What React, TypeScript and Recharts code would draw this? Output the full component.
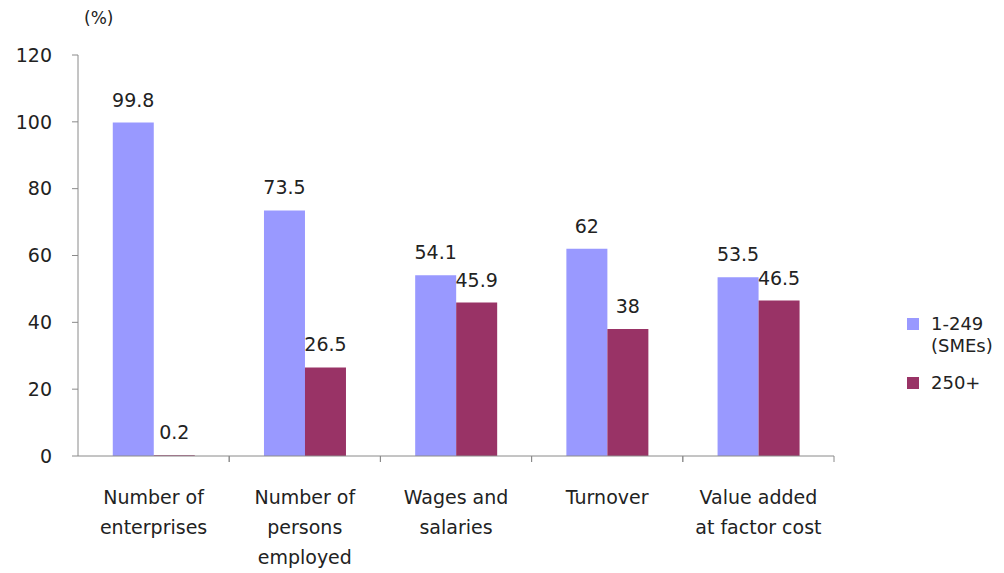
import React from "react";
import { BarChart, Bar, XAxis, YAxis, LabelList } from "recharts";

// categories split in lines the way they wrap in the reference
const categories: string[][] = [
  ["Number of", "enterprises"],
  ["Number of", "persons", "employed"],
  ["Wages and", "salaries"],
  ["Turnover"],
  ["Value added", "at factor cost"],
];
const smes = [99.8, 73.5, 54.1, 62, 53.5];
const large = [0.2, 26.5, 45.9, 38, 46.5];
const yTicks = [0, 20, 40, 60, 80, 100, 120];

const data = categories.map((lines, i) => ({
  name: lines.join(" "),
  smes: smes[i],
  large: large[i],
}));

const FONT = "'DejaVu Sans', sans-serif";
const TEXT = "#222";
const AXIS = "#8a8a8a";

const W = 1004;
const H = 573;
const M = { top: 55, right: 170, bottom: 0, left: 0 };
const Y_W = 78;
const BAND = (W - Y_W - M.right) / categories.length;

// category label + boundary tick marks like Excel's "between" ticks
const CategoryTick = (props: any) => {
  const { x, y, payload } = props;
  const lines = categories[payload.index] || [payload.value];
  const ay = y - 8;
  return (
    <g>
      {payload.index > 0 && (
        <line x1={x - BAND / 2} x2={x - BAND / 2} y1={ay} y2={ay + 6} stroke={AXIS} />
      )}
      <line x1={x + BAND / 2} x2={x + BAND / 2} y1={ay} y2={ay + 6} stroke={AXIS} />
      <text x={x} y={y} textAnchor="middle" fill={TEXT} fontSize={19} fontFamily={FONT}>
        {lines.map((l: string, i: number) => (
          <tspan key={i} x={x} dy={i === 0 ? 40 : 30}>
            {l}
          </tspan>
        ))}
      </text>
    </g>
  );
};

const legendItems = [
  { color: "#9999ff", lines: ["1-249", "(SMEs)"] },
  { color: "#993366", lines: ["250+"] },
];

export default function App() {
  return (
    <div style={{ position: "absolute", left: 0, top: 0, width: W, height: H, background: "#fff" }}>
      <div
        style={{
          position: "absolute",
          left: 84,
          top: 8,
          fontFamily: FONT,
          fontSize: 17,
          color: TEXT,
        }}
      >
        (%)
      </div>
      <div
        style={{
          position: "absolute",
          left: 907,
          top: 313,
          fontFamily: FONT,
          fontSize: 18,
          color: TEXT,
          lineHeight: "22px",
        }}
      >
        {legendItems.map((it, i) => (
          <div key={i} style={{ display: "flex", alignItems: "flex-start", marginTop: i ? 15 : 0 }}>
            <span style={{ width: 12, height: 12, background: it.color, marginTop: 5, marginRight: 12 }} />
            <span>
              {it.lines.map((l, j) => (
                <div key={j}>{l}</div>
              ))}
            </span>
          </div>
        ))}
      </div>
      <BarChart width={W} height={H} data={data} margin={M} barCategoryGap="23%" barGap={0}>
        <XAxis
          dataKey="name"
          height={117}
          interval={0}
          stroke={AXIS}
          tickLine={false}
          tick={<CategoryTick />}
        />
        <YAxis
          width={Y_W}
          domain={[0, 120]}
          ticks={yTicks}
          interval={0}
          stroke={AXIS}
          tickSize={6}
          tickMargin={20}
          tick={{ fill: TEXT, fontSize: 19, fontFamily: FONT }}
        />
        <Bar dataKey="smes" name="1-249 (SMEs)" fill="#9999ff" isAnimationActive={false}>
          <LabelList dataKey="smes" position="top" offset={16} fill={TEXT} fontSize={19} fontFamily={FONT} />
        </Bar>
        <Bar dataKey="large" name="250+" fill="#993366" isAnimationActive={false}>
          <LabelList dataKey="large" position="top" offset={16} fill={TEXT} fontSize={19} fontFamily={FONT} />
        </Bar>
      </BarChart>
    </div>
  );
}
